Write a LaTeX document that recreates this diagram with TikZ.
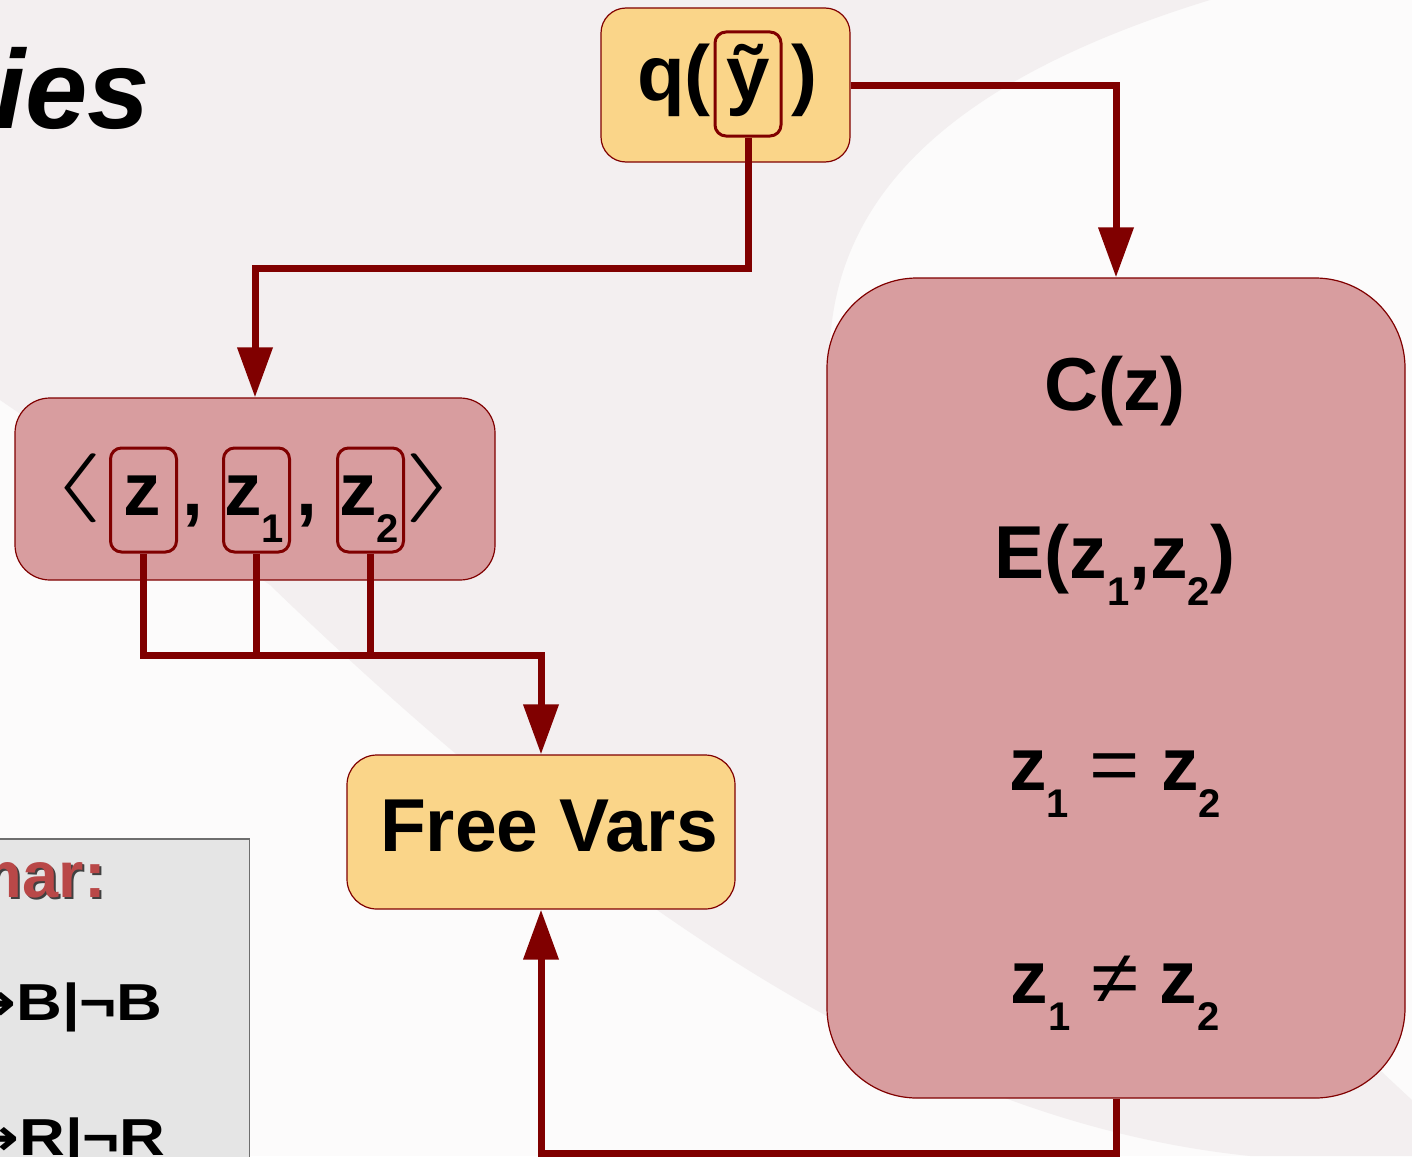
\documentclass[tikz,border=0pt]{standalone}
\usepackage{fontspec}
\setmainfont{Liberation Sans}
\newfontfamily\arrowfont{DejaVu Sans}
\usetikzlibrary{positioning,arrows.meta,calc}

\definecolor{darkwire}{RGB}{128,0,0}
\definecolor{qfill}{RGB}{250,213,137}
\definecolor{pinkfill}{RGB}{216,157,159}
\definecolor{bggrey}{RGB}{243,239,240}
\definecolor{bgwhite}{RGB}{252,251,251}
\definecolor{gramfill}{RGB}{229,229,229}
\definecolor{gramedge}{RGB}{110,110,110}
\definecolor{gramred}{RGB}{185,72,72}

\newcommand{\lowsub}[1]{\raisebox{-27pt}{\fontsize{40}{40}\selectfont#1}}
\newcommand{\wideop}[1]{{\mdseries\scalebox{1.15}[1]{#1}}}

\begin{document}
\begin{tikzpicture}
   [x=1pt,y=-1pt,
    conn/.style={draw=darkwire,line width=7pt},
    arr/.style={conn,-{Triangle[width=34pt,length=50pt]}},
    rbox/.style={draw=darkwire,line width=1.2pt,rounded corners=#1,inner sep=0pt},
    pick/.style={draw=darkwire,line width=3pt,rounded corners=11pt,
      minimum width=66pt,minimum height=104pt,inner sep=0pt},
    big/.style={font=\bfseries\fontsize{75}{80}\selectfont,inner sep=0pt},
    qtext/.style={font=\bfseries\fontsize{78}{80}\selectfont,inner sep=0pt},
    ruletext/.style={font=\bfseries\fontsize{52}{56}\selectfont,anchor=base east,inner sep=0pt}]

\useasboundingbox (0,0) rectangle (1412,1156);
\fill[bgwhite] (0,0) rectangle (1412,1156);
\fill[bggrey] (0,0) -- (1210,0) .. controls (950,80) and (820,200) .. (830,380)
   .. controls (1000,700) and (1250,950) .. (1412,1100) -- (1412,1156) -- (1250,1156)
   .. controls (1000,1130) and (700,1000) .. (270,585) -- (0,400) -- cycle;

\node [font=\bfseries\itshape\fontsize{112}{120}\selectfont,anchor=base east,inner sep=0pt] (title) at (150,128) {ies};

\node [draw=gramedge,line width=1.5pt,fill=gramfill,inner sep=0pt,anchor=north east,
   minimum width=300pt,minimum height=360pt] (gram) at (250,838) {};
\node [font=\bfseries\fontsize{65}{70}\selectfont,text=black!75,anchor=base east,inner sep=0pt] (gramshadow) at (108,899) {mar:};
\node [font=\bfseries\fontsize{65}{70}\selectfont,text=gramred,anchor=base east,inner sep=0pt] (gramhead) at (106,897) {mar:};
\node [ruletext] (ruleb) at (163,1020) {\scalebox{1.22}[1]{{\arrowfont\bfseries →}B|¬B}};
\node [ruletext] (ruler) at (166,1155) {\scalebox{1.22}[1]{{\arrowfont\bfseries →}R|¬R}};

\node [rbox=25pt,fill=qfill,minimum width=249pt,minimum height=154pt] (qbox) at (725.5,85) {};
\node [pick] (ybox) at (748,84) {};
\node [qtext,anchor=base east] (qopen) at (711,100) {q(};
\node [qtext,anchor=base] (ytxt) at (748,100) {ỹ};
\node [qtext,anchor=base west] (qclose) at (791,100) {)};

\node [rbox=35pt,fill=pinkfill,minimum width=480pt,minimum height=182pt] (tup) at (255,489) {};
\node [pick] (zbox) at (143.5,500) {};
\node [pick] (zonebox) at (256.5,500) {};
\node [pick] (ztwobox) at (370.5,500) {};
\node [inner sep=0pt] (lang) at (77,488) {\scalebox{14}[6.9]{$\langle$}};
\node [big,anchor=base] (ztxt) at (142,515) {z};
\node [big,anchor=base] (commaone) at (193,515) {,};
\node [big,anchor=base] (zonetxt) at (254,515) {z\lowsub{1}};
\node [big,anchor=base] (commatwo) at (307,515) {,};
\node [big,anchor=base] (ztwotxt) at (369,515) {z\lowsub{2}};
\node [inner sep=0pt] (rang) at (431,488) {\scalebox{14}[6.9]{$\rangle$}};

\node [rbox=30pt,fill=qfill,minimum width=388pt,minimum height=154pt] (free) at (541,832) {};
\node [big,anchor=base] (freetxt) at (549,851) {Free Vars};

\node [rbox=90pt,fill=pinkfill,minimum width=578pt,minimum height=820pt] (cbox) at (1116,688) {};
\node [big,anchor=base] (ctxt) at (1115,410) {C(z)};
\node [big,anchor=base] (etxt) at (1115,578) {E(z\lowsub{1},z\lowsub{2})};
\node [big,anchor=base] (eqtxt) at (1115,790) {z\lowsub{1} \wideop{=} z\lowsub{2}};
\node [big,anchor=base] (netxt) at (1115,1003) {z\lowsub{1} \wideop{≠} z\lowsub{2}};

\coordinate (bend) at (tup.north |- 0,268);
\coordinate (join) at (free.north |- 0,655);
\coordinate (low) at (free.south |- 0,1153);

\draw [arr] (qbox.east) -| (cbox.north);
\draw [arr] (ybox.south) |- (bend) -- (tup.north);
\draw [arr] (zbox.south) |- (join) -- (free.north);
\draw [conn] (zonebox.south) -- (zonebox.south |- join);
\draw [conn] (ztwobox.south) -- (ztwobox.south |- join);
\draw [arr] (cbox.south) |- (low) -- (free.south);
\end{tikzpicture}
\end{document}
